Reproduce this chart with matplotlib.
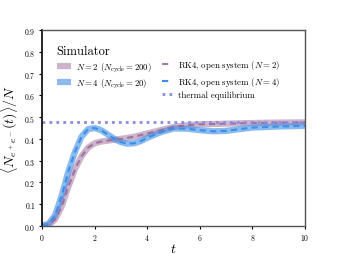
import numpy as np
import matplotlib
matplotlib.use("Agg")
import matplotlib.pyplot as plt

plt.rcParams['font.family'] = 'serif'
plt.rcParams['font.serif'] = ['cmr10', 'DejaVu Serif']
plt.rcParams['mathtext.fontset'] = 'cm'
plt.rcParams['axes.formatter.use_mathtext'] = True

# data
t_n2 = [0, 0.25, 0.5, 0.75, 1.0, 1.25, 1.5, 1.75, 2.0, 2.25, 2.5, 2.75, 3.0,
        3.5, 4.0, 4.5, 5.0, 5.5, 6.0, 7.0, 8.0, 9.0, 10.0]
n_n2 = [0, 0.005, 0.03, 0.09, 0.18, 0.26, 0.32, 0.36, 0.38, 0.388, 0.392, 0.396, 0.40,
        0.41, 0.425, 0.44, 0.455, 0.463, 0.467, 0.47, 0.473, 0.475, 0.476]

t_n4 = [0, 0.25, 0.5, 0.75, 1.0, 1.25, 1.5, 1.75, 2.0, 2.25, 2.5, 2.75, 3.0,
        3.25, 3.5, 3.75, 4.0, 4.5, 5.0, 5.5, 6.0, 6.5, 7.0, 7.5, 8.0, 9.0, 10.0]
n_n4 = [0, 0.01, 0.05, 0.14, 0.25, 0.34, 0.41, 0.445, 0.45, 0.44, 0.42, 0.40, 0.385,
        0.378, 0.38, 0.39, 0.405, 0.43, 0.448, 0.447, 0.44, 0.435, 0.437, 0.445, 0.452, 0.457, 0.46]

thermal = 0.48

c_purple = '#9a6a9a'
c_blue = '#3d8ee6'

fig = plt.figure(figsize=(3.39, 2.55), dpi=100)
ax = fig.add_axes([0.124, 0.11, 0.776, 0.768])

s1, = ax.plot(t_n2, n_n2, color=c_purple, lw=4.5, alpha=0.5, solid_capstyle='butt')
s2, = ax.plot(t_n4, n_n4, color=c_blue, lw=4.5, alpha=0.6, solid_capstyle='butt')
r1, = ax.plot(t_n2, n_n2, color=c_purple, lw=1.5, ls=(0, (3, 2)), alpha=0.9)
r2, = ax.plot(t_n4, n_n4, color=c_blue, lw=1.5, ls=(0, (3, 2)))
th = ax.axhline(thermal, color='#8a8ce0', lw=2, ls=(0, (1, 1.5)))

ax.set_xlim(0, 10)
ax.set_ylim(0, 0.9)
ax.set_xticks([0, 2, 4, 6, 8, 10])
ax.set_yticks(np.arange(0, 0.91, 0.1))
ax.tick_params(labelsize=5.5, length=2.5, width=0.8, pad=2)
ax.set_xlabel(r'$t$', fontsize=10, labelpad=0)
ax.set_ylabel(r'$\langle N_{e^+e^-}(t)\rangle/N$', fontsize=10, labelpad=3)

ax.spines['left'].set_color('black')
ax.spines['left'].set_linewidth(1.2)
for s in ['top', 'right', 'bottom']:
    ax.spines[s].set_color('#555555')
    ax.spines[s].set_linewidth(1.0)

leg1 = ax.legend([s1, s2],
                 [r'$N=2$ $(N_{\rm cycle}=200)$', r'$N=4$ $(N_{\rm cycle}=20)$'],
                 title='Simulator', loc='upper left', bbox_to_anchor=(0.042, 0.94),
                 frameon=False, fontsize=6.3, title_fontsize=9,
                 handlelength=1.7, handletextpad=0.55, labelspacing=0.35,
                 borderaxespad=0)
leg1._legend_box.align = 'left'
ax.add_artist(leg1)

ax.legend([r1, r2, th],
          [r'RK4, open system $(N=2)$', r'RK4, open system $(N=4)$', 'thermal equilibrium'],
          loc='upper left', bbox_to_anchor=(0.441, 0.875),
          frameon=False, fontsize=6.3, handlelength=1.2, handletextpad=0.65,
          labelspacing=0.4, borderaxespad=0)

fig.savefig('out.png', dpi=100)
